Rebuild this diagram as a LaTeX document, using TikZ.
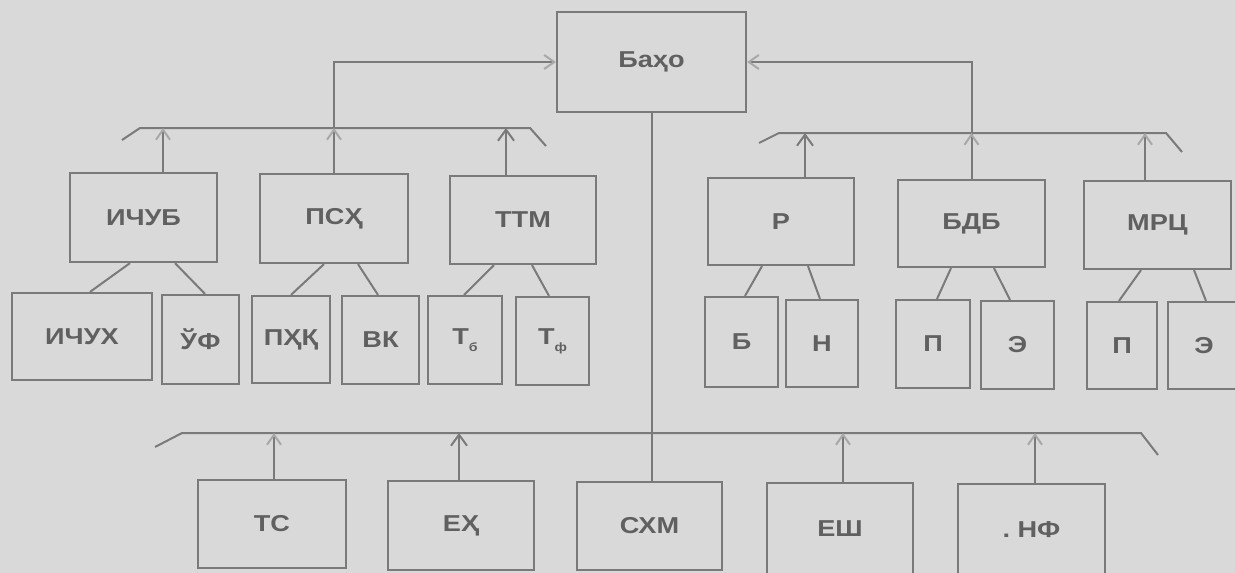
\documentclass[tikz,border=0pt]{standalone}
\usepackage{fontspec}
\newfontfamily\lbl[FakeStretch=1.18]{Liberation Sans}
\usetikzlibrary{arrows.meta,calc}
\definecolor{bg}{HTML}{D9D9D9}
\definecolor{ln}{HTML}{7A7A7A}
\definecolor{tx}{HTML}{606060}
\definecolor{fa}{HTML}{A8A8A8}
\newcommand{\sbs}[1]{\raisebox{-7pt}{\fontsize{12}{12}\selectfont #1}}
\tikzset{
  box/.style={draw=ln, line width=2.2pt, inner sep=0pt, text=tx,
    font=\lbl\bfseries\fontsize{23}{26}\selectfont},
  wire/.style={draw=ln, line width=2pt},
  arr/.style={wire, -{Straight Barb[length=11pt,width=16pt,line width=2pt]}},
  farr/.style={wire, -{Straight Barb[length=10pt,width=14pt,line width=2pt,color=fa]}},
}
\begin{document}
\begin{tikzpicture}[x=1pt,y=-1pt]
\fill[bg] (0,0) rectangle (1235,573);
\useasboundingbox (0,0) rectangle (1235,573);
\clip (0,0) rectangle (1235,573);
% top
\node[box, minimum width=189, minimum height=100] (baho) at (651.5,62) {Баҳо};
% level 1 left
\node[box, minimum width=147, minimum height=89] (ichub) at (143.5,217.5) {ИЧУБ};
\node[box, minimum width=148, minimum height=89] (psh) at (334,218.5) {ПСҲ};
\node[box, minimum width=146, minimum height=88] (ttm) at (523,220) {ТТМ};
% level 1 right
\node[box, minimum width=146, minimum height=87] (r) at (781,221.5) {Р};
\node[box, minimum width=147, minimum height=87] (bdb) at (971.5,223.5) {БДБ};
\node[box, minimum width=147, minimum height=88] (mrc) at (1157.5,225) {МРЦ};
% level 2 left
\node[box, minimum width=140, minimum height=87] (ichuh) at (82,336.5) {ИЧУХ};
\node[box, minimum width=77, minimum height=89] (uf) at (200.5,339.5) {ЎФ};
\node[box, minimum width=78, minimum height=87] (phk) at (291,339.5) {ПҲҚ};
\node[box, minimum width=77, minimum height=88] (vk) at (380.5,340) {ВК};
\node[box, minimum width=74, minimum height=88] (tb) at (465,340) {Т\sbs{б}};
\node[box, minimum width=73, minimum height=88] (tf) at (552.5,341) {Т\sbs{ф}};
% level 2 right
\node[box, minimum width=73, minimum height=90] (b) at (741.5,342) {Б};
\node[box, minimum width=72, minimum height=87] (n) at (822,343.5) {Н};
\node[box, minimum width=74, minimum height=88] (p1) at (933,344) {П};
\node[box, minimum width=73, minimum height=88] (e1) at (1017.5,345) {Э};
\node[box, minimum width=70, minimum height=87] (p2) at (1122,345.5) {П};
\node[box, minimum width=72, minimum height=87] (e2) at (1204,345.5) {Э};
% bottom row
\node[box, minimum width=148, minimum height=88] (ts) at (272,524) {ТС};
\node[box, minimum width=146, minimum height=89] (eh) at (461,525.5) {ЕҲ};
\node[box, minimum width=145, minimum height=88] (shm) at (649.5,526) {СХМ};
\node[box, minimum width=146, minimum height=92] (esh) at (840,529) {ЕШ};
\node[box, minimum width=147, minimum height=91] (nf) at (1031.5,529.5) {.\ НФ};
% buses
\coordinate (l1) at (122,140); \coordinate (l2) at (140,128);
\coordinate (l3) at (530,128); \coordinate (l4) at (546,146);
\coordinate (r1) at (759,143); \coordinate (r2) at (779,133);
\coordinate (r3) at (1166,133); \coordinate (r4) at (1182,152);
\coordinate (b1) at (155,447); \coordinate (b2) at (182,433);
\coordinate (b3) at (1141,433); \coordinate (b4) at (1158,455);
\draw[wire] (l1) -- (l2) -- (l3) -- (l4);
\draw[wire] (r1) -- (r2) -- (r3) -- (r4);
\draw[wire] (b1) -- (b2) -- (b3) -- (b4);
% connections to Baho
\draw[farr] (psh.north) |- (baho.west);
\draw[farr] (bdb.north) |- (baho.east);
\draw[wire] (baho.south) -- (baho.south |- shm.north);
% arrows into buses
\coordinate (aI) at (163,128); \coordinate (aP) at (334,128); \coordinate (aT) at (506,128);
\coordinate (aR) at (805,133); \coordinate (aB) at (971.5,133); \coordinate (aM) at (1145,133);
\coordinate (aTS) at (274,433); \coordinate (aEH) at (459,433);
\coordinate (aES) at (843,433); \coordinate (aNF) at (1035,433);
\draw[farr] (aI |- ichub.north) -- (aI);
\draw[farr] (psh.north) -- (aP);
\draw[arr] (aT |- ttm.north) -- (aT);
\draw[arr] (aR |- r.north) -- (aR);
\draw[farr] (bdb.north) -- (aB);
\draw[farr] (aM |- mrc.north) -- (aM);
\draw[farr] (aTS |- ts.north) -- (aTS);
\draw[arr] (aEH |- eh.north) -- (aEH);
\draw[farr] (aES |- esh.north) -- (aES);
\draw[farr] (aNF |- nf.north) -- (aNF);
% tree branches
\draw[wire] ($(ichub.south)+(-13.5,0)$) -- ($(ichuh.north)+(8,0)$);
\draw[wire] ($(ichub.south)+(31.5,0)$) -- ($(uf.north)+(4.5,0)$);
\draw[wire] ($(psh.south)+(-10,0)$) -- (phk.north);
\draw[wire] ($(psh.south)+(24,0)$) -- ($(vk.north)+(-2.5,0)$);
\draw[wire] ($(ttm.south)+(-29,0)$) -- ($(tb.north)+(-1,0)$);
\draw[wire] ($(ttm.south)+(9,0)$) -- ($(tf.north)+(-3.5,0)$);
\draw[wire] ($(r.south)+(-19,0)$) -- ($(b.north)+(3.5,0)$);
\draw[wire] ($(r.south)+(27,0)$) -- ($(n.north)+(-2,0)$);
\draw[wire] ($(bdb.south)+(-20.5,0)$) -- ($(p1.north)+(4,0)$);
\draw[wire] ($(bdb.south)+(22.5,0)$) -- ($(e1.north)+(-7.5,0)$);
\draw[wire] ($(mrc.south)+(-16.5,0)$) -- ($(p2.north)+(-3,0)$);
\draw[wire] ($(mrc.south)+(36.5,0)$) -- ($(e2.north)+(2,0)$);
\end{tikzpicture}
\end{document}
